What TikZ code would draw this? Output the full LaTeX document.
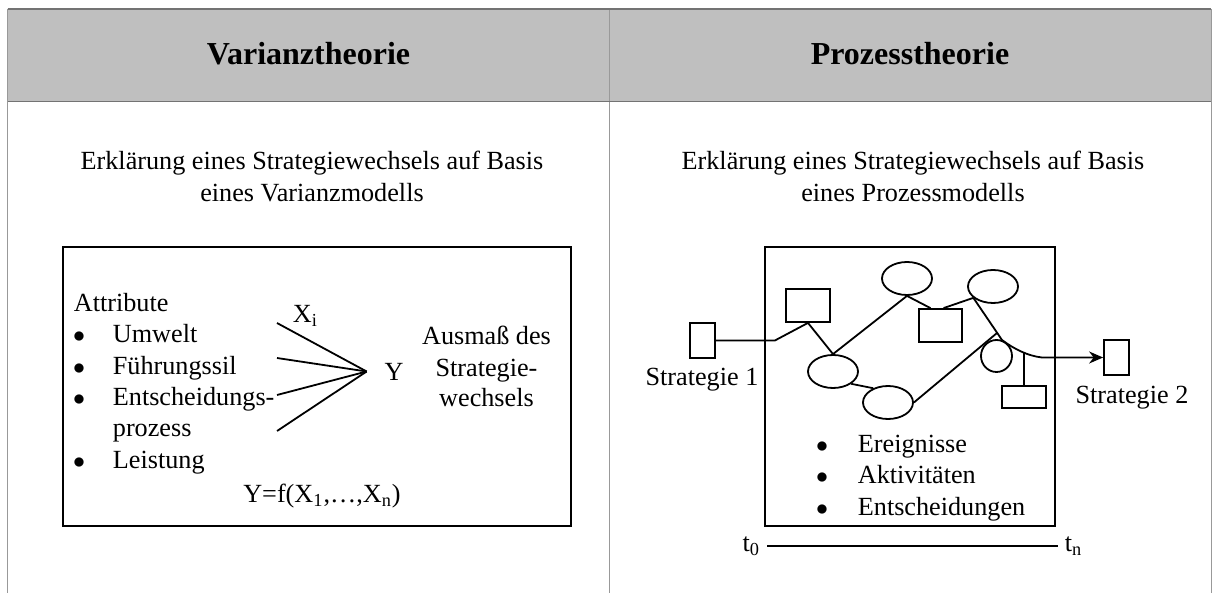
\documentclass[tikz,border=0pt]{standalone}
\usepackage{fontspec}
\setmainfont{Liberation Serif}
\usetikzlibrary{shapes.geometric,arrows.meta}

\begin{document}
\begin{tikzpicture}[x=0.5pt,y=-0.5pt,line width=0.9pt,
	txt/.style={inner sep=0pt,font=\fontsize{13.1}{15.5}\selectfont},
	head/.style={inner sep=0pt,font=\fontsize{16}{18}\selectfont\bfseries},
	evt/.style={draw,ellipse,inner sep=0pt,minimum width=25pt,minimum height=16.5pt},
	act/.style={draw,rectangle,inner sep=0pt,minimum width=22pt,minimum height=16.5pt},
	strat/.style={act,minimum width=12.5pt,minimum height=17.5pt},
	tabline/.style={line width=0.5pt,black!40}]
\useasboundingbox (0,0) rectangle (1212,593);
	% table with grey head row
	\fill[black!25] (7.5,9) rectangle (1211,101.5);
	\draw[tabline] (7.5,9) -- (7.5,593);
	\draw[tabline] (609.5,9) -- (609.5,593);
	\draw[tabline] (1211,9) -- (1211,593);
	\draw[line width=0.6pt,black!55] (7.5,9) -- (1211,9);
	\draw[line width=0.6pt,black!55] (7.5,101.5) -- (1211,101.5);
	\node[head,anchor=base] (hvar) at (308.5,65) {Varianztheorie};
	\node[head,anchor=base] (hproz) at (910,65) {Prozesstheorie};
	\node[txt,anchor=base] (dvar1) at (312,170) {Erklärung eines Strategiewechsels auf Basis};
	\node[txt,anchor=base] (dvar2) at (312,202) {eines Varianzmodells};
	\node[txt,anchor=base] (dproz1) at (913,170) {Erklärung eines Strategiewechsels auf Basis};
	\node[txt,anchor=base] (dproz2) at (913,202) {eines Prozessmodells};

	% variance model
	\draw[line width=1pt] (63,247) rectangle (571,526);
	\node[txt,anchor=base west] (attr) at (73,312) {Attribute};
	\foreach \yb/\txt [count=\i] in {343/Umwelt,375/Führungssil,406/Entscheidungs-,469/Leistung}
	{
		\node[txt,anchor=base] (vbul\i) at (79,\yb) {$\bullet$};
		\node[txt,anchor=base west] (vatt\i) at (112,\yb) {\txt};
	}
	\node[txt,anchor=base west] (vatt5) at (112,437) {prozess};
	\node[txt,inner sep=8.5pt] (yout) at (394,371.5) {Y};
	\node[txt,anchor=base west] (xi) at (292,323) {X\textsubscript{i}};
	\foreach \yy in {323,358,395,431}
		\draw (277,\yy) -- (yout.west);
	\foreach \yb/\txt [count=\i] in {345/Ausmaß des,377/Strategie-,407/wechsels}
		\node[txt,anchor=base] (ausm\i) at (486.5,\yb) {\txt};
	\node[txt,anchor=base] (func) at (322,503) {Y=f(X\textsubscript{1},…,X\textsubscript{n})};

	% process model
	\draw[line width=1pt] (765,247) rectangle (1055,526);
	\node[strat] (s1) at (702.5,340.5) {};
	\node[act] (a1) at (808,305.5) {};
	\node[evt] (e1) at (833,371.5) {};
	\node[evt] (e2) at (888,402.5) {};
	\node[evt] (e3) at (907,278.5) {};
	\node[act,minimum width=21.5pt] (a2) at (940.5,325.5) {};
	\node[evt] (e4) at (993,286.5) {};
	\node[evt,minimum width=15.5pt,minimum height=16pt] (e5) at (996.5,356) {};
	\node[act,minimum height=11pt] (a3) at (1024,397) {};
	\node[strat] (s2) at (1116.5,357.5) {};
	\node[txt,anchor=base] (s1lab) at (702,386) {Strategie 1};
	\node[txt,anchor=base] (s2lab) at (1132,404) {Strategie 2};
	\coordinate (j0) at (997,333);
	\coordinate (j1) at (1002,340);
	\coordinate (j2) at (1042,357.5);
	\coordinate (j3) at (1024,352.5);
	\draw (s1.east) -- ++(59,0) -- (a1.south);
	\draw (a1.south) -- (e1.north) -- (e3.south) -- (a2.120);
	\draw (a2.80) -- (e4.210);
	\draw[-{Stealth[length=7pt,width=6pt]}] (e4.210) -- (j1) .. controls (1014,349) and (1028,356) .. (j2) -- (s2.west);
	\draw (e1.-34) -- (e2.136);
	\draw (e2.east) -- (j0);
	\draw (j3) -- (a3.north);
	\foreach \yb/\txt [count=\i] in {453/Ereignisse,484/Aktivitäten,516/Entscheidungen}
	{
		\node[txt,anchor=base] (pbul\i) at (822,\yb) {$\bullet$};
		\node[txt,anchor=base west] (pitem\i) at (857,\yb) {\txt};
	}
	\node[txt,anchor=east,inner sep=3pt] (t0) at (767,546) {t\textsubscript{0}};
	\node[txt,anchor=west,inner sep=3pt] (tn) at (1058,546) {t\textsubscript{n}};
	\draw (t0.east) -- (tn.west);
\end{tikzpicture}
\end{document}
